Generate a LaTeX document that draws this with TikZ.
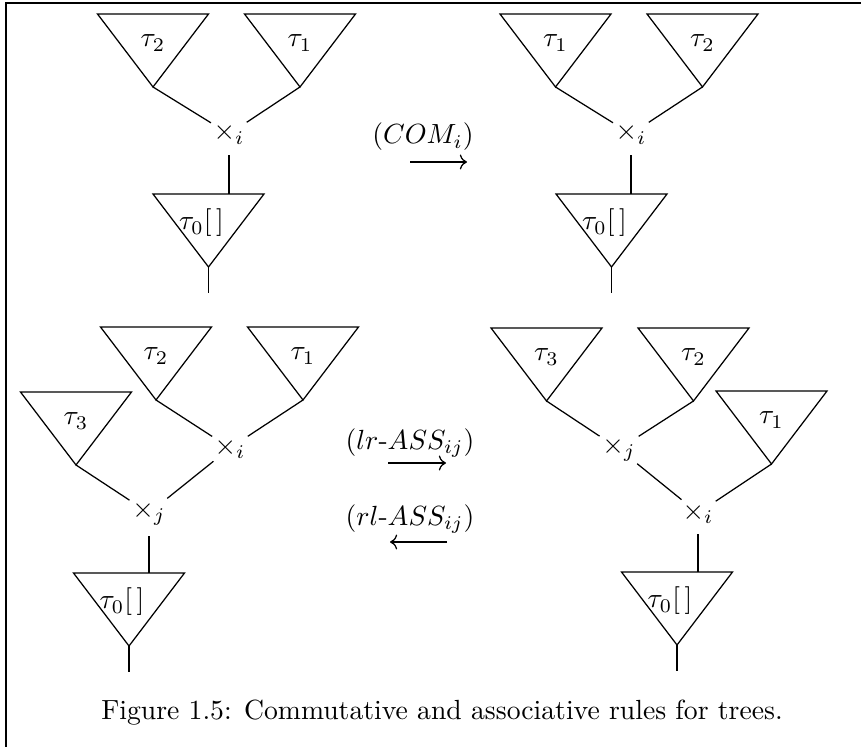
\documentclass[tikz,border=0pt]{standalone}
\usepackage{amssymb}
\usepackage{amsmath}
\usepackage{tikz}
\usetikzlibrary{arrows.meta,calc}

\tikzset{
  treeline/.style={line width=0.45pt},
  prod/.style={circle, inner sep=0.6pt},
  rulearrow/.style={line width=0.45pt, -{Computer Modern Rightarrow}},
  subtree/.pic={
    \draw[treeline] (-55.5,0) -- (55.5,0) -- (0,73) coordinate (-apex) -- cycle;
    \coordinate (-top) at (0,0);
    \node (-lab) at (0,29) {#1};
  },
  roottree/.pic={
    \draw[treeline] (-55.5,0) -- (55.5,0) -- (0,73) coordinate (-apex) -- cycle;
    \coordinate (-top) at (0,0);
    \coordinate (-root) at (0,99);
    \draw[treeline] (-apex) -- (-root);
    \node (-lab) at (-7,29) {#1};
  },
}

\begin{document}
\begin{tikzpicture}[x=0.361pt, y=-0.361pt]
  \useasboundingbox (0,0) rectangle (861,747);
  \draw[line width=0.8pt] (6,747) -- (6,3) -- (861,3);

  % commutativity
  \pic (t2) at (153,14) {subtree={$\tau_2$}};
  \pic (t1) at (300,14) {subtree={$\tau_1$}};
  \node[prod] (xi) at (229,134) {$\times_i$};
  \pic (t0) at (208.5,194) {roottree={$\tau_0[\,]$}};
  \draw[treeline] (t2-apex) -- (xi);
  \draw[treeline] (t1-apex) -- (xi);
  \draw[treeline] (xi) -- (xi |- t0-top);

  \pic (ta1) at (555.5,14) {subtree={$\tau_1$}};
  \pic (ta2) at (702.5,14) {subtree={$\tau_2$}};
  \node[prod] (xa) at (631,134) {$\times_i$};
  \pic (ta0) at (611.5,194) {roottree={$\tau_0[\,]$}};
  \draw[treeline] (ta1-apex) -- (xa);
  \draw[treeline] (ta2-apex) -- (xa);
  \draw[treeline] (xa) -- (xa |- ta0-top);

  \node (com) at (423,137) {$(COM_i)$};
  \coordinate (comfrom) at (410,162);
  \coordinate (comto) at (467,162);
  \draw[rulearrow] (comfrom) -- (comto);

  % associativity
  \pic (tb2) at (156,327) {subtree={$\tau_2$}};
  \pic (tb1) at (303,327) {subtree={$\tau_1$}};
  \pic (tb3) at (76,392) {subtree={$\tau_3$}};
  \node[prod] (xbi) at (230,448) {$\times_i$};
  \node[prod] (xbj) at (149,513) {$\times_j$};
  \pic (tb0) at (129,573) {roottree={$\tau_0[\,]$}};
  \draw[treeline] (tb2-apex) -- (xbi);
  \draw[treeline] (tb1-apex) -- (xbi);
  \draw[treeline] (tb3-apex) -- (xbj);
  \draw[treeline] (xbi) -- (xbj);
  \draw[treeline] (xbj) -- (xbj |- tb0-top);

  \pic (tc3) at (546.5,328) {subtree={$\tau_3$}};
  \pic (tc2) at (693.5,328) {subtree={$\tau_2$}};
  \pic (tc1) at (771.5,391) {subtree={$\tau_1$}};
  \node[prod] (xcj) at (619,449) {$\times_j$};
  \node[prod] (xci) at (698,513) {$\times_i$};
  \pic (tc0) at (677,572) {roottree={$\tau_0[\,]$}};
  \draw[treeline] (tc3-apex) -- (xcj);
  \draw[treeline] (tc2-apex) -- (xcj);
  \draw[treeline] (xcj) -- (xci);
  \draw[treeline] (tc1-apex) -- (xci);
  \draw[treeline] (xci) -- (xci |- tc0-top);

  \node (lr) at (410,443) {$(lr\text{-}ASS_{ij})$};
  \coordinate (lrfrom) at (388,463);
  \coordinate (lrto) at (446,463);
  \draw[rulearrow] (lrfrom) -- (lrto);

  \node (rl) at (410,519) {$(rl\text{-}ASS_{ij})$};
  \coordinate (rlto) at (390,542);
  \coordinate (rlfrom) at (447,542);
  \draw[rulearrow] (rlfrom) -- (rlto);

  \node (cap) at (442,713) {Figure 1.5: Commutative and associative rules for trees.};
\end{tikzpicture}
\end{document}
